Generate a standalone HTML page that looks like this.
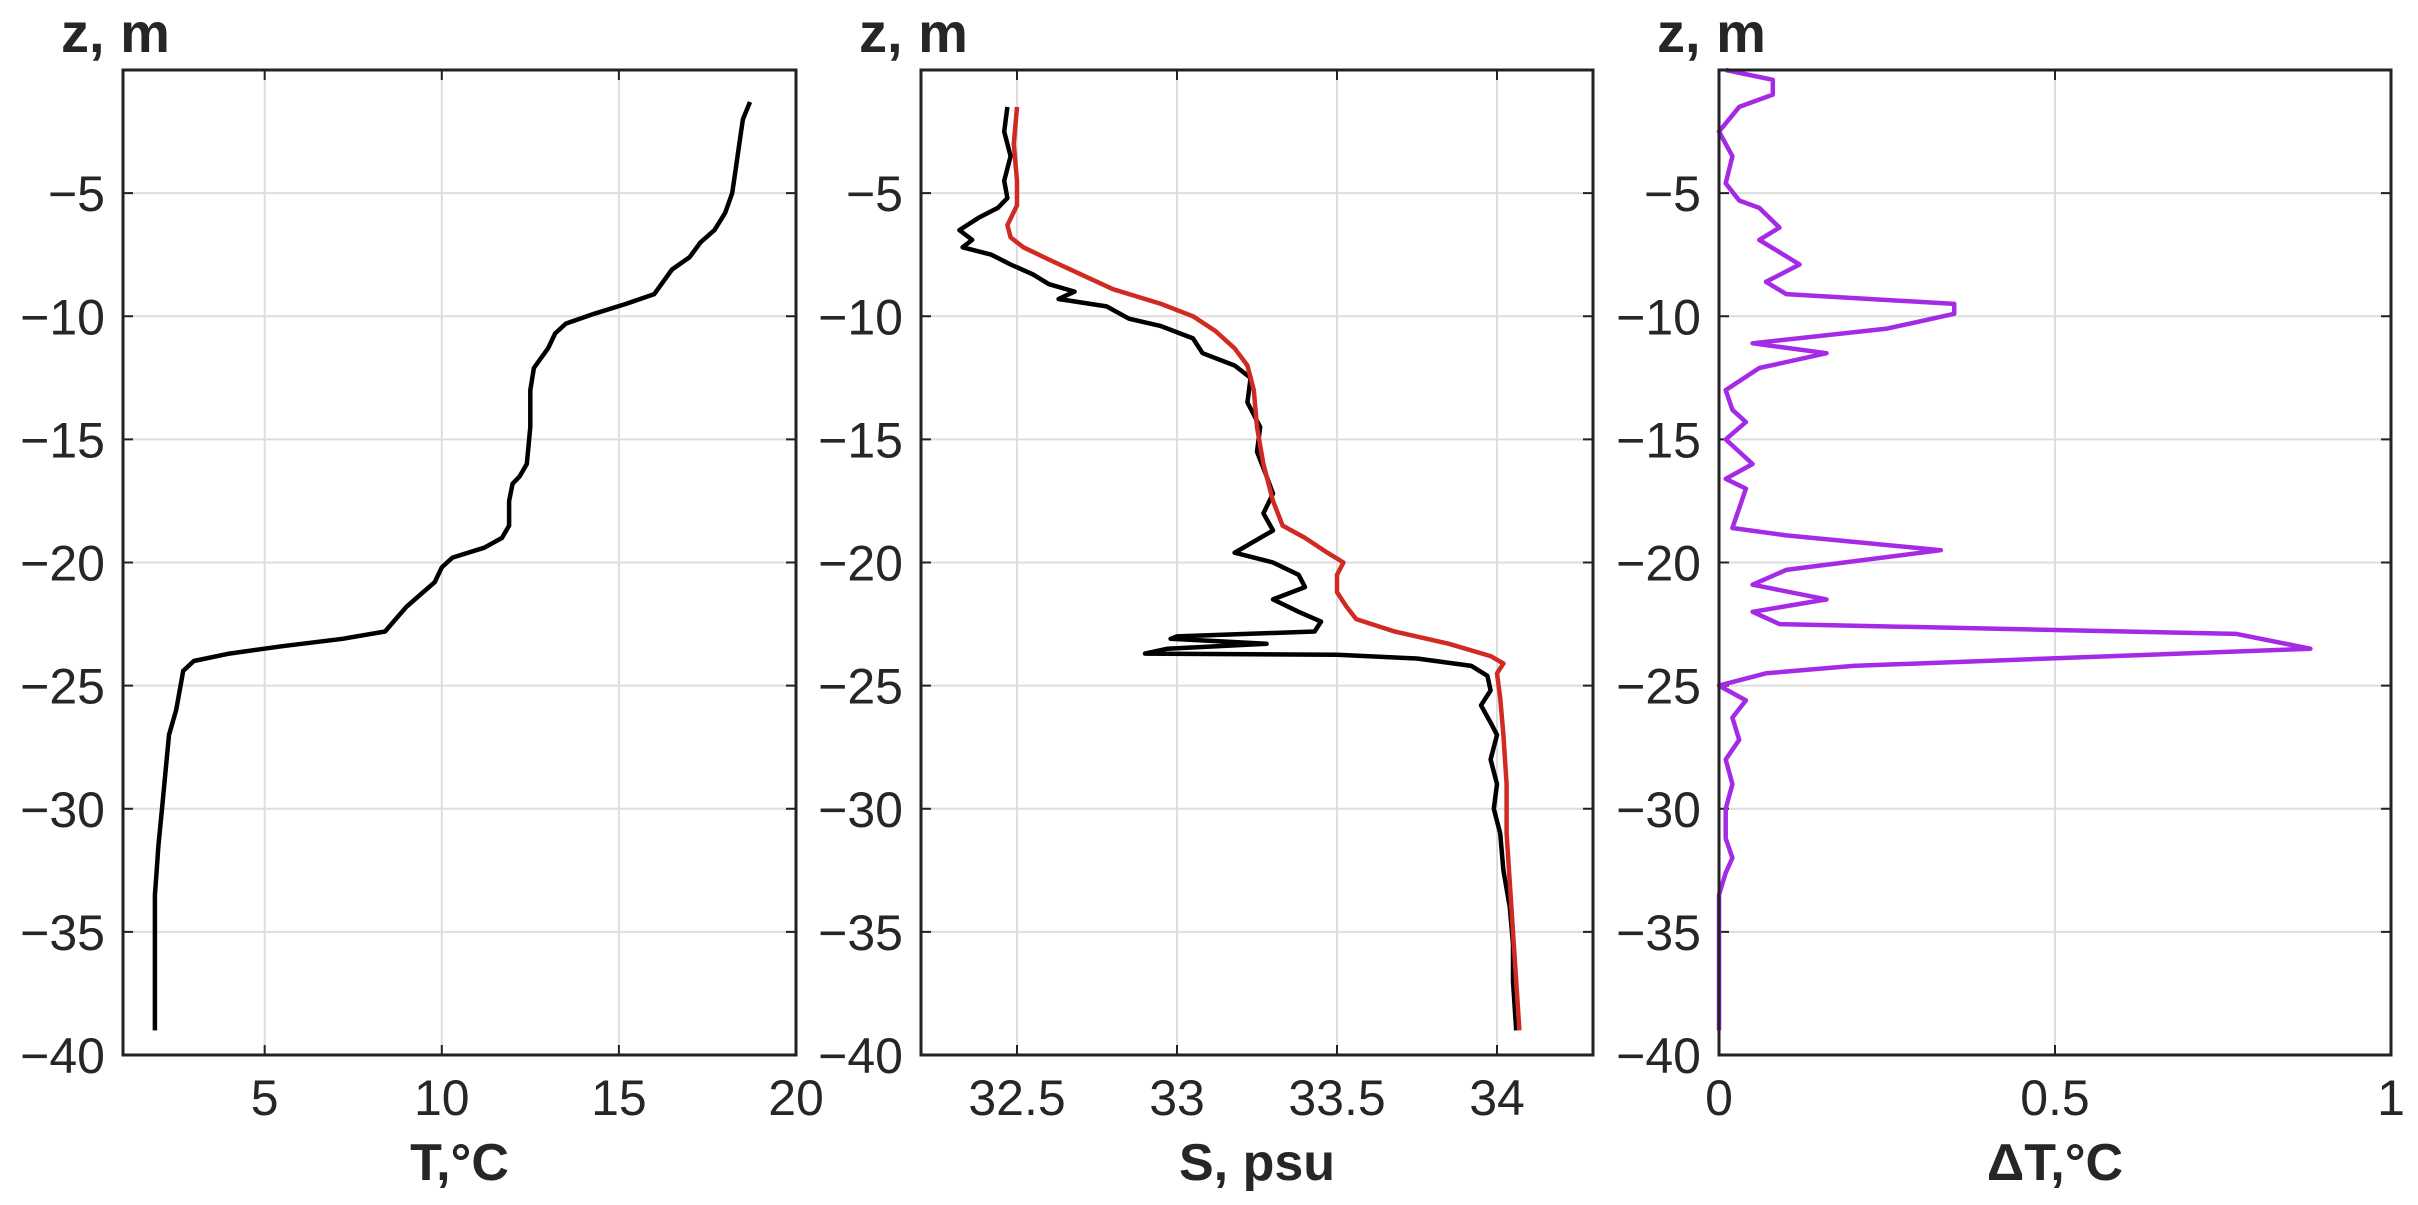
<!DOCTYPE html>
<html><head><meta charset="utf-8"><style>
body{margin:0;background:#fff;}
svg{display:block;font-family:"Liberation Sans",Arial,sans-serif;}
</style></head><body>
<svg id="s" width="2418" height="1205" viewBox="0 0 2418 1205" xmlns="http://www.w3.org/2000/svg"></svg>
<script>
const S=document.getElementById('s');
let h='';
const Y0=70,Y1=1055;
function yz(z){return Y0+(0-z)/40*(Y1-Y0);}
function panel(x0,x1,xmin,xmax,ticks,labels,xlabel,series){
  const X=v=>x0+(v-xmin)/(xmax-xmin)*(x1-x0);
  for(const t of ticks){const x=X(t); if(x>x0+1&&x<x1-1) h+=`<line x1="${x}" y1="${Y0}" x2="${x}" y2="${Y1}" stroke="#dedede" stroke-width="2"/>`;}
  for(let z=-5;z>-40;z-=5){const y=yz(z);h+=`<line x1="${x0}" y1="${y}" x2="${x1}" y2="${y}" stroke="#dedede" stroke-width="2"/>`;}
  for(const t of ticks){const x=X(t);h+=`<line x1="${x}" y1="${Y1}" x2="${x}" y2="${Y1-10}" stroke="#222" stroke-width="2"/><line x1="${x}" y1="${Y0}" x2="${x}" y2="${Y0+10}" stroke="#222" stroke-width="2"/>`;}
  for(let z=-5;z>-40;z-=5){const y=yz(z);h+=`<line x1="${x0}" y1="${y}" x2="${x0+10}" y2="${y}" stroke="#222" stroke-width="2"/><line x1="${x1}" y1="${y}" x2="${x1-10}" y2="${y}" stroke="#222" stroke-width="2"/>`;}
  for(const s of series){h+=`<polyline fill="none" stroke="${s.c}" stroke-width="4.5" stroke-linejoin="round" points="${s.d.map(p=>X(p[0]).toFixed(1)+','+yz(p[1]).toFixed(1)).join(' ')}"/>`;}
  h+=`<rect x="${x0}" y="${Y0}" width="${x1-x0}" height="${Y1-Y0}" fill="none" stroke="#222" stroke-width="3"/>`;
  ticks.forEach((t,i)=>{h+=`<text x="${X(t)}" y="1115" font-size="50" text-anchor="middle" fill="#262626">${labels[i]}</text>`;});
  for(let z=-5;z>=-40;z-=5){h+=`<text x="${x0-18}" y="${yz(z)+18}" font-size="50" text-anchor="end" fill="#262626">${'\u2212'+(-z)}</text>`;}
  h+=`<text x="${x0-62}" y="52" font-size="56" font-weight="bold" fill="#262626">z, m</text>`;
  h+=`<text x="${(x0+x1)/2}" y="1180" font-size="52" font-weight="bold" text-anchor="middle" fill="#262626">${xlabel}</text>`;
}
const T=[[18.7,-1.3],[18.5,-2],[18.4,-3],[18.3,-4],[18.2,-5],[18.0,-5.8],[17.7,-6.5],[17.3,-7],[17.0,-7.6],[16.5,-8.1],[16.2,-8.7],[16.0,-9.1],[15.2,-9.5],[14.3,-9.9],[13.5,-10.3],[13.2,-10.7],[13.0,-11.3],[12.8,-11.7],[12.6,-12.1],[12.5,-13],[12.5,-14.5],[12.4,-16],[12.2,-16.5],[12.0,-16.8],[11.9,-17.5],[11.9,-18.5],[11.7,-19],[11.2,-19.4],[10.3,-19.8],[10.0,-20.2],[9.8,-20.8],[9.4,-21.3],[9.0,-21.8],[8.7,-22.3],[8.4,-22.8],[7.2,-23.1],[5.5,-23.4],[4.0,-23.7],[3.0,-24.0],[2.7,-24.4],[2.6,-25.2],[2.5,-26],[2.3,-27],[2.2,-28.5],[2.1,-30],[2.0,-31.5],[1.95,-32.5],[1.9,-33.5],[1.9,-39]];
const SB=[[32.47,-1.5],[32.46,-2.5],[32.48,-3.5],[32.46,-4.5],[32.47,-5.2],[32.44,-5.6],[32.38,-6],[32.32,-6.5],[32.36,-6.9],[32.33,-7.2],[32.42,-7.5],[32.48,-7.9],[32.55,-8.3],[32.6,-8.7],[32.68,-9],[32.63,-9.3],[32.78,-9.6],[32.85,-10.1],[32.95,-10.4],[33.05,-10.9],[33.08,-11.5],[33.18,-12],[33.23,-12.5],[33.22,-13.5],[33.26,-14.5],[33.25,-15.5],[33.28,-16.5],[33.3,-17.2],[33.27,-18],[33.3,-18.7],[33.22,-19.3],[33.18,-19.6],[33.3,-20],[33.38,-20.5],[33.4,-21],[33.3,-21.5],[33.38,-22],[33.45,-22.4],[33.43,-22.8],[33.0,-23.0],[32.98,-23.1],[33.28,-23.3],[32.97,-23.5],[32.9,-23.7],[33.5,-23.75],[33.75,-23.9],[33.92,-24.2],[33.97,-24.6],[33.98,-25.2],[33.95,-25.8],[33.98,-26.5],[34.0,-27],[33.98,-28],[34.0,-29],[33.99,-30],[34.01,-31],[34.02,-32.5],[34.04,-34],[34.05,-35.5],[34.05,-37],[34.06,-39]];
const SR=[[32.5,-1.5],[32.49,-3],[32.5,-4.5],[32.5,-5.5],[32.47,-6.3],[32.48,-6.8],[32.52,-7.2],[32.6,-7.7],[32.7,-8.3],[32.8,-8.9],[32.95,-9.5],[33.05,-10],[33.12,-10.6],[33.18,-11.3],[33.22,-12],[33.24,-13],[33.25,-14.5],[33.27,-16],[33.3,-17.5],[33.33,-18.5],[33.4,-19],[33.47,-19.6],[33.52,-20],[33.5,-20.5],[33.5,-21.2],[33.53,-21.8],[33.56,-22.3],[33.68,-22.8],[33.85,-23.3],[33.98,-23.8],[34.02,-24.1],[34.0,-24.5],[34.01,-25.5],[34.02,-27],[34.03,-29],[34.03,-31],[34.04,-33],[34.05,-35],[34.06,-37],[34.07,-39]];
const Dz=[[0.01,0],[0.08,-0.4],[0.08,-1],[0.03,-1.5],[0.0,-2.5],[0.02,-3.5],[0.01,-4.6],[0.03,-5.3],[0.06,-5.6],[0.09,-6.4],[0.06,-6.9],[0.12,-7.9],[0.07,-8.6],[0.1,-9.1],[0.35,-9.5],[0.35,-9.9],[0.25,-10.5],[0.05,-11.1],[0.16,-11.5],[0.06,-12.1],[0.01,-13],[0.02,-13.8],[0.04,-14.3],[0.01,-15],[0.05,-16],[0.01,-16.6],[0.04,-17],[0.03,-17.8],[0.02,-18.6],[0.1,-18.9],[0.33,-19.5],[0.1,-20.3],[0.05,-20.9],[0.16,-21.5],[0.05,-22],[0.09,-22.5],[0.77,-22.9],[0.88,-23.5],[0.2,-24.2],[0.07,-24.5],[0.0,-25],[0.04,-25.6],[0.02,-26.3],[0.03,-27.2],[0.01,-28],[0.02,-29],[0.01,-30],[0.01,-31.2],[0.02,-32],[0.01,-32.6],[0.0,-33.5],[0.0,-39]];
panel(123,796,1,20,[5,10,15,20],['5','10','15','20'],'T,°C',[{c:'#000',d:T}]);
panel(921,1593,32.2,34.3,[32.5,33,33.5,34],['32.5','33','33.5','34'],'S, psu',[{c:'#000',d:SB},{c:'#d02a22',d:SR}]);
panel(1719,2391,0,1,[0,0.5,1],['0','0.5','1'],'ΔT,°C',[{c:'#a42ae6',d:Dz}]);
S.innerHTML=h;
</script>
</body></html>
